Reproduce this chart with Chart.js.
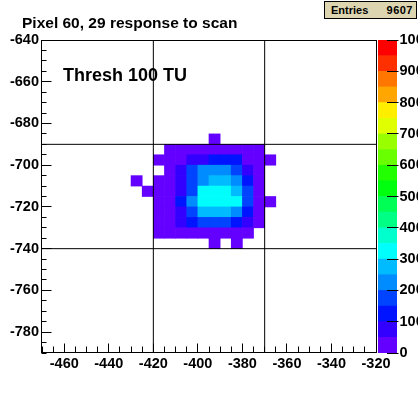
<!DOCTYPE html>
<html><head><meta charset="utf-8">
<script src="https://cdn.jsdelivr.net/npm/chart.js@4/dist/chart.umd.min.js"></script>
<style>
html,body{margin:0;padding:0;background:#fff;}
#wrap{position:relative;width:418px;height:393px;overflow:hidden;font-family:"Liberation Sans",Arial,sans-serif;font-weight:bold;color:#000;}
#main{position:absolute;left:0;top:0;}
#pal{position:absolute;left:376px;top:0;}
.txt{position:absolute;white-space:nowrap;line-height:1;}
#title{left:22px;top:14.5px;font-size:15.5px;}
#label{left:63px;top:66px;font-size:18px;}
#stats{left:324px;top:1px;width:91px;height:16px;border:1px solid #000;background:#DCD5B0;font-size:11px;}
#stats span{position:absolute;top:2.5px;}
</style></head>
<body><div id="wrap">
<canvas id="main" width="418" height="393"></canvas>
<canvas id="pal" width="42" height="393"></canvas>
<div class="txt" id="title">Pixel 60, 29 response to scan</div>
<div class="txt" id="label">Thresh 100 TU</div>
<div class="txt" id="stats"><span style="left:6px">Entries</span><span id="entries" style="right:3px;letter-spacing:0.5px"></span></div>
</div>
<script>
// ---- data ----
const xMin = -470, xMax = -320, yMin = -790, yMax = -640;
const binSize = 5;
const xTickLabels = [-460, -440, -420, -400, -380, -360, -340, -320];
const yTickLabels = [-780, -760, -740, -720, -700, -680, -660, -640];
const zTickLabels = [0, 100, 200, 300, 400, 500, 600, 700, 800, 900, 1000];
const zLevelEdges = [0, 50, 100, 150, 200, 250, 300, 350, 400, 450, 500, 550, 600, 650, 700, 750, 800, 850, 900, 950, 1000];
const xCenters = [-427.5, -422.5, -417.5, -412.5, -407.5, -402.5, -397.5, -392.5, -387.5, -382.5, -377.5, -372.5, -367.5];
const yCenters = [-687.5, -692.5, -697.5, -702.5, -707.5, -712.5, -717.5, -722.5, -727.5, -732.5, -737.5];
const counts = [
  [0, 0, 0, 0, 0, 0, 0, 2, 0, 0, 0, 0, 0],
  [0, 0, 0, 5, 10, 14, 17, 19, 16, 12, 8, 4, 0],
  [0, 0, 4, 18, 30, 72, 88, 118, 131, 109, 28, 14, 3],
  [0, 0, 0, 31, 64, 168, 214, 238, 231, 186, 71, 27, 0],
  [1, 0, 9, 34, 81, 183, 247, 271, 283, 236, 142, 29, 0],
  [0, 2, 11, 37, 93, 192, 318, 341, 336, 292, 177, 32, 0],
  [0, 0, 10, 36, 104, 226, 312, 344, 338, 306, 163, 30, 3],
  [0, 0, 7, 22, 79, 171, 268, 289, 276, 219, 121, 24, 0],
  [0, 0, 5, 18, 58, 113, 157, 174, 162, 127, 66, 16, 0],
  [0, 0, 2, 4, 7, 10, 12, 11, 8, 5, 3, 0, 0],
  [0, 0, 0, 0, 0, 0, 0, 1, 0, 1, 0, 0, 0]
];
const boundaryX = [-420, -370];
const boundaryY = [-690, -740];

// ---- colours (ROOT "pretty" palette, 20 contour levels) ----
function levelColor(k) {
  const idx = Math.floor((k + 0.99) * 50 / 20);
  const hue = Math.max(0, 280 - (idx + 1) * 5.6);
  return 'hsl(' + hue + ',100%,50%)';
}
const nLevels = zLevelEdges.length - 1;
const levelWidth = zLevelEdges[1] - zLevelEdges[0];

const cells = [], cellColors = [];
let total = 0;
yCenters.forEach((yc, i) => xCenters.forEach((xc, j) => {
  const v = counts[i][j];
  if (v > 0) {
    total += v;
    cells.push({x: xc, y: [yc - binSize / 2, yc + binSize / 2]});
    cellColors.push(levelColor(Math.min(nLevels - 1, Math.floor(v / levelWidth))));
  }
}));
document.getElementById('entries').textContent = String(total);

const lineData = [
  ...boundaryX.map(v => [{x: v, y: yMin}, {x: v, y: yMax}]),
  ...boundaryY.map(v => [{x: xMin, y: v}, {x: xMax, y: v}])
];

const FONT = {family: '"Liberation Sans", Arial, sans-serif', size: 14.5, weight: 'bold'};

const framePlugin = {
  id: 'frameTicks',
  afterDatasetsDraw(chart) {
    const {ctx, chartArea: a, scales: {x, y}} = chart;
    ctx.save();
    ctx.strokeStyle = '#000';
    ctx.lineWidth = 1;
    const L = Math.round(a.left) - 0.5, R = Math.round(a.right) + 0.5;
    const T = Math.round(a.top) + 0.5, B = Math.round(a.bottom) - 0.5;
    ctx.strokeRect(L, T, R - L, B - T);
    ctx.beginPath();
    for (let v = xMin; v <= xMax; v += binSize) {
      const px = Math.floor(x.getPixelForValue(v)) + 0.5;
      const len = xTickLabels.includes(v) ? 9 : 6;
      ctx.moveTo(px, B); ctx.lineTo(px, B - len);
    }
    for (let v = yMin; v <= yMax; v += binSize) {
      const py = Math.floor(y.getPixelForValue(v)) + 0.5;
      const len = yTickLabels.includes(v) ? 10 : 5;
      ctx.moveTo(L, py); ctx.lineTo(L + len, py);
    }
    ctx.stroke();
    ctx.restore();
  }
};

new Chart(document.getElementById('main'), {
  type: 'bar',
  data: {
    datasets: [
      ...lineData.map(d => ({type: 'line', data: d, borderColor: '#000', borderWidth: 1, pointRadius: 0, fill: false, order: 0})),
      {type: 'bar', data: cells, backgroundColor: cellColors, borderWidth: 0, barPercentage: 1, categoryPercentage: 1, grouped: false, order: 1}
    ]
  },
  options: {
    responsive: false, animation: false, devicePixelRatio: 1,
    layout: {padding: {left: 0, right: 42, top: 40, bottom: 0}},
    plugins: {legend: {display: false}, tooltip: {enabled: false}},
    scales: {
      x: {
        type: 'linear', min: xMin, max: xMax, offset: false,
        grid: {display: false, drawTicks: false, offset: false},
        border: {display: false},
        ticks: {autoSkip: false, maxRotation: 0, padding: 2, color: '#000', font: FONT, callback: v => String(v)},
        afterBuildTicks: s => { s.ticks = xTickLabels.map(v => ({value: v})); },
        afterFit: s => { s.height = 40; }
      },
      y: {
        type: 'linear', min: yMin, max: yMax, beginAtZero: false,
        grid: {display: false, drawTicks: false},
        border: {display: false},
        ticks: {autoSkip: false, padding: 3, color: '#000', font: FONT, callback: v => String(v)},
        afterBuildTicks: s => { s.ticks = yTickLabels.map(v => ({value: v})); },
        afterFit: s => { s.width = 42; }
      }
    }
  },
  plugins: [framePlugin]
});

const palTicks = {
  id: 'palTicks',
  afterDatasetsDraw(chart) {
    const {ctx, chartArea: a, scales: {y}} = chart;
    ctx.save();
    ctx.strokeStyle = '#000';
    ctx.lineWidth = 1;
    ctx.beginPath();
    zTickLabels.forEach(v => {
      let py = Math.floor(y.getPixelForValue(v)) + 0.5;
      ctx.moveTo(a.right - 10, py); ctx.lineTo(a.right + 1.5, py);
    });
    ctx.stroke();
    ctx.restore();
  }
};

new Chart(document.getElementById('pal'), {
  type: 'bar',
  data: {
    labels: [''],
    datasets: zLevelEdges.slice(0, -1).map((lo, k) => ({
      data: [[lo, zLevelEdges[k + 1]]], backgroundColor: levelColor(k), borderWidth: 0,
      barPercentage: 1, categoryPercentage: 1, grouped: false
    }))
  },
  options: {
    responsive: false, animation: false, devicePixelRatio: 1,
    layout: {padding: {left: 2, right: 0, top: 40, bottom: 40}},
    plugins: {legend: {display: false}, tooltip: {enabled: false}},
    scales: {
      x: {display: false},
      y: {
        position: 'right', min: 0, max: 1000,
        grid: {display: false, drawTicks: false},
        border: {display: false},
        ticks: {autoSkip: false, padding: 2.5, color: '#000', font: FONT, callback: v => String(v)},
        afterBuildTicks: s => { s.ticks = zTickLabels.map(v => ({value: v})); },
        afterFit: s => { s.width = 21; }
      }
    }
  },
  plugins: [palTicks]
});
</script>
</body></html>
